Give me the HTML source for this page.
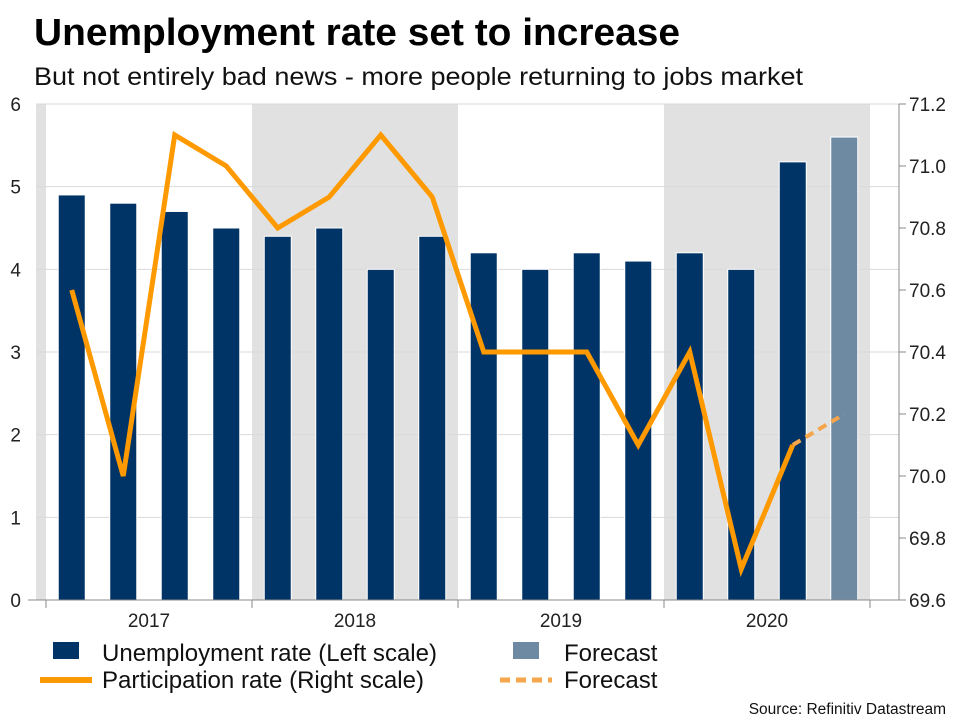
<!DOCTYPE html>
<html><head><meta charset="utf-8"><style>
body{margin:0;background:#fff;font-family:"Liberation Sans",Arial,sans-serif}
svg text{font-family:"Liberation Sans",Arial,sans-serif}
</style></head><body>
<svg id="c" width="960" height="720" xmlns="http://www.w3.org/2000/svg">
<text x="34" y="45" font-size="38" font-weight="bold" fill="#000" textLength="646" lengthAdjust="spacingAndGlyphs">Unemployment rate set to increase</text>
<text x="34" y="85" font-size="25" fill="#111" textLength="769" lengthAdjust="spacingAndGlyphs">But not entirely bad news - more people returning to jobs market</text>
<g id="plot"></g>
<g>
<rect x="53" y="642" width="26" height="17" fill="#003366"/>
<text x="102" y="661" font-size="24" fill="#111" textLength="335" lengthAdjust="spacingAndGlyphs">Unemployment rate (Left scale)</text>
<line x1="40" y1="680" x2="92" y2="680" stroke="#ff9900" stroke-width="6"/>
<text x="102" y="688" font-size="24" fill="#111" textLength="322" lengthAdjust="spacingAndGlyphs">Participation rate (Right scale)</text>
<rect x="513" y="642" width="26" height="17" fill="#6e8aa3"/>
<text x="564" y="661" font-size="24" fill="#111">Forecast</text>
<line x1="500" y1="680" x2="552" y2="680" stroke="#f5a54a" stroke-width="5" stroke-dasharray="10,6"/>
<text x="564" y="688" font-size="24" fill="#111">Forecast</text>
</g>
<text x="946" y="714" font-size="15.5" text-anchor="end" fill="#111">Source: Refinitiv Datastream</text>
</svg>
<script>
const years = ["2017","2018","2019","2020"];
const unemployment = [4.9,4.8,4.7,4.5,4.4,4.5,4.0,4.4,4.2,4.0,4.2,4.1,4.2,4.0,5.3];
const unemploymentForecast = [5.6];
const participation = [70.6,70.0,71.1,71.0,70.8,70.9,71.1,70.9,70.4,70.4,70.4,70.1,70.4,69.7,70.1];
const participationForecast = [70.2];
const leftTicks = [0,1,2,3,4,5,6];
const rightTicks = ["69.6","69.8","70.0","70.2","70.4","70.6","70.8","71.0","71.2"];

const NS="http://www.w3.org/2000/svg";
const g=document.getElementById('plot');
const x0=46,qw=51.5,yTop=104,yBot=600,xL=28,xR=899;
const yL=v=>yBot-(v-0)/6*(yBot-yTop);
const yR=v=>yBot-(v-69.6)/1.6*(yBot-yTop);
const xq=i=>x0+qw*(i+0.5);
function mk(t,a){const e=document.createElementNS(NS,t);for(const k in a)e.setAttribute(k,a[k]);g.appendChild(e);return e;}
let e=mk('rect',{x:36,y:yTop,width:x0-36,height:yBot-yTop,fill:'#e1e1e1'});


years.forEach((yr,k)=>{if(k%2===1){const s=mk('rect',{x:x0+k*4*qw,y:yTop,width:4*qw,height:yBot-yTop,fill:'#e1e1e1'});

}});
leftTicks.forEach(v=>{const l=mk('line',{x1:36,x2:xR,y1:yL(v),y2:yL(v),stroke:'#d9d9d9','stroke-width':1});


const t=mk('text',{x:21,y:yL(v)+7,'font-size':19,'text-anchor':'end',fill:'#222'});t.textContent=v;

});
rightTicks.forEach(v=>{const y=yR(parseFloat(v));mk('line',{x1:xR,x2:xR+7,y1:y,y2:y,stroke:'#888'});
const t=mk('text',{x:xR+10,y:y+7,'font-size':19,fill:'#222'});t.textContent=v;

});
const bw=27;
unemployment.forEach((v,i)=>{const b=mk('rect',{x:xq(i)-bw/2,y:yL(v),width:bw,height:yBot-yL(v),fill:'#003366',stroke:'#fff','stroke-width':1});

});
unemploymentForecast.forEach((v,j)=>{const i=unemployment.length+j;const b=mk('rect',{x:xq(i)-bw/2,y:yL(v),width:bw,height:yBot-yL(v),fill:'#6e8aa3',stroke:'#fff','stroke-width':1});

});
mk('line',{x1:xL,x2:xR,y1:yBot,y2:yBot,stroke:'#888'});
mk('line',{x1:xR,x2:xR,y1:yTop,y2:yBot,stroke:'#888'});
for(let k=0;k<=years.length;k++){const x=x0+k*4*qw;mk('line',{x1:x,x2:x,y1:yBot,y2:yBot+8,stroke:'#888'});}
years.forEach((yr,k)=>{const t=mk('text',{x:x0+(k*4+2)*qw,y:yBot+27,'font-size':19,'text-anchor':'middle',fill:'#222'});t.textContent=yr;

});
const pts=participation.map((v,i)=>xq(i)+','+yR(v)).join(' ');
const pl=mk('polyline',{points:pts,fill:'none',stroke:'#ff9900','stroke-width':5,'stroke-linejoin':'miter'});


const n=participation.length-1;
const fp=[xq(n)+','+yR(participation[n])].concat(participationForecast.map((v,j)=>xq(n+1+j)+','+yR(v))).join(' ');
const fl=mk('polyline',{points:fp,fill:'none',stroke:'#f5a54a','stroke-width':4,'stroke-dasharray':'9,6'});


</script>
</body></html>
